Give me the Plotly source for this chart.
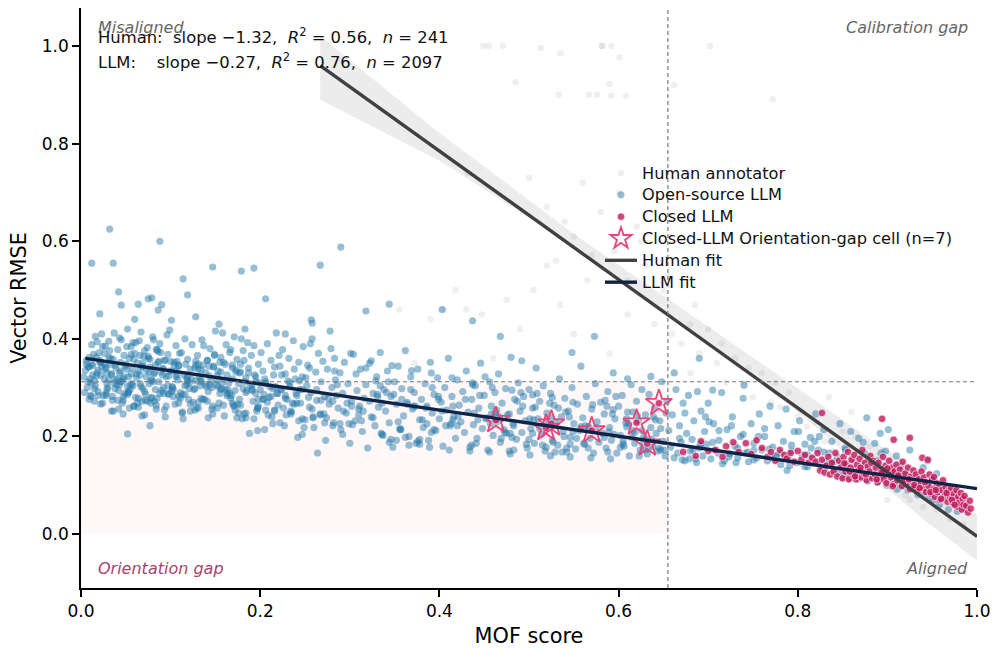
import plotly.graph_objects as go

human_x = [.449,.455,.471,.513,.535,.581,.582,.592,.601,.702,.485,.59,.662,.533,.567,.576,.592,.608,.772,.432,
.355,.372,.39,.405,.418,.43,.447,.46,.475,.49,.505,.52,.535,.55,.565,.58,.595,.61,.625,.64,
.655,.67,.685,.7,.715,.73,.745,.76,.775,.79,.805,.82,.835,.85,.865,.88,.895,.91,.925,.94,
.955,.97,.985,.53,.56,.6,.62,.65,.68,.71,.74,.77,.8,.83,.86,.89,.92,.95,.98,.72,
.66,.69,.75,.78,.81,.84,.87,.9,.93,.96,.5,.52,.54,.57,.61,.63,.68,.64,.59,.55]
human_y = [1.0,1.0,1.0,.996,.985,1.0,1.0,1.0,.977,1.0,.926,.922,.92,.9,.9,.9,.898,.898,.891,.74,
.46,.35,.44,.46,.5,.46,.45,.36,.48,.42,.5,.55,.47,.61,.52,.66,.58,.52,.6,.43,
.53,.39,.47,.42,.39,.36,.34,.33,.31,.29,.25,.23,.28,.21,.2,.18,.17,.09,.07,.055,
.05,.03,.02,.56,.72,.7,.63,.5,.43,.35,.31,.27,.24,.19,.25,.16,.08,.09,.05,.31,
.41,.37,.28,.26,.22,.17,.13,.07,.13,.06,.73,.67,.64,.57,.45,.55,.33,.66,.37,.41]

open_x = [
.005,.007,.009,.010,.012,.013,.015,.016,.018,.019,.020,.022,.023,.024,.026,.027,.028,.030,.031,.033,
.034,.035,.037,.038,.040,.041,.042,.044,.045,.046,.048,.049,.050,.052,.053,.055,.056,.057,.059,.060,
.004,.008,.011,.014,.017,.021,.025,.029,.032,.036,.039,.043,.047,.051,.054,.058,.061,.063,.064,.066,
.067,.069,.070,.071,.073,.074,.076,.077,.079,.080,.081,.083,.084,.086,.087,.088,.090,.091,.093,.094,
.095,.097,.098,.099,.101,.102,.104,.105,.106,.108,.109,.111,.112,.113,.115,.116,.118,.119,.120,.122,
.062,.065,.068,.072,.075,.078,.082,.085,.089,.092,.096,.100,.103,.107,.110,.114,.117,.121,.124,.126,
.127,.129,.130,.132,.133,.135,.136,.138,.139,.141,.142,.144,.145,.147,.148,.150,.151,.153,.154,.156,
.157,.159,.160,.162,.163,.165,.166,.168,.169,.171,.172,.174,.175,.177,.178,.180,.181,.183,.184,.186,
.123,.128,.131,.134,.137,.140,.143,.146,.149,.152,.155,.158,.161,.164,.167,.170,.173,.176,.179,.182,
.187,.189,.190,.192,.193,.195,.197,.198,.200,.201,.203,.205,.206,.208,.210,.212,.213,.215,.217,.218,
.220,.222,.223,.225,.227,.228,.230,.232,.233,.235,.237,.238,.240,.242,.243,.245,.247,.248,.250,.252,
.253,.255,.257,.258,.260,.262,.263,.265,.267,.268,.270,.272,.273,.275,.277,.278,.280,.282,.283,.285,
.188,.196,.204,.214,.224,.234,.244,.254,.264,.274,.284,.287,.289,.290,.292,.294,.296,.298,.300,.302,
.304,.306,.308,.310,.312,.314,.316,.318,.320,.322,.324,.326,.328,.330,.332,.334,.336,.338,.340,.342,
.344,.346,.348,.350,.352,.354,.356,.358,.360,.362,.364,.366,.368,.370,.372,.374,.376,.378,.380,.382,
.384,.386,.388,.390,.392,.394,.396,.398,.400,.402,.404,.406,.408,.410,.412,.414,.416,.418,.420,.422,
.424,.426,.428,.430,.432,.434,.436,.438,.440,.442,.444,.446,.448,.450,.452,.454,.456,.458,.460,.462,
.464,.466,.468,.470,.472,.474,.476,.478,.480,.482,.484,.486,.488,.490,.492,.494,.496,.498,.500,.502,
.504,.506,.508,.510,.512,.514,.516,.518,.520,.522,.524,.526,.528,.530,.532,.534,.536,.538,.540,.542,
.544,.546,.548,.550,.552,.554,.556,.558,.560,.562,.564,.566,.568,.570,.572,.574,.576,.578,.580,.582,
.584,.586,.588,.590,.592,.594,.596,.598,.600,.602,.604,.606,.608,.610,.612,.614,.616,.618,.620,.622,
.624,.626,.628,.630,.632,.634,.636,.638,.640,.642,.644,.646,.648,.650,.652,.654,.656,.658,.660,.662,
.664,.666,.668,.670,.672,.674,.676,.678,.680,.682,.684,.686,.688,.690,.692,.694,.696,.698,.700,.703,
.706,.709,.712,.715,.718,.721,.724,.727,.730,.733,.736,.739,.742,.745,.748,.751,.754,.757,.760,.763,
.766,.769,.772,.775,.778,.781,.784,.787,.790,.793,.796,.799,.802,.805,.808,.811,.814,.817,.820,.823,
.826,.829,.832,.835,.838,.841,.844,.847,.850,.853,.856,.859,.862,.865,.868,.871,.874,.877,.880,.883,
.886,.889,.892,.895,.898,.901,.904,.907,.910,.915,.920,.925,.930,.935,.940,.945,.950,.955,.960,.975,
.012,.032,.036,.042,.021,.045,.064,.086,.088,.079,.114,.119,.147,.179,.193,.206,.267,.257,.258,.290,.318,.344,
.403,.437,.468,.492,.548,.573,.61,.636,.662,.69,.705,.74]
open_y = [
.335,.300,.362,.318,.388,.345,.272,.405,.330,.292,.372,.352,.410,.268,.318,.385,.342,.300,.395,.360,
.328,.282,.412,.346,.306,.378,.256,.334,.398,.312,.366,.288,.348,.420,.322,.296,.384,.340,.262,.370,
.290,.342,.310,.368,.324,.356,.284,.330,.376,.252,.316,.402,.274,.338,.360,.304,.392,.350,.278,.326,
.414,.298,.364,.244,.336,.382,.308,.358,.280,.404,.328,.346,.264,.374,.312,.390,.294,.340,.356,.240,
.322,.368,.286,.418,.334,.302,.352,.266,.386,.316,.344,.290,.372,.250,.326,.400,.306,.358,.276,.338,
.320,.396,.344,.286,.360,.314,.272,.378,.332,.300,.408,.354,.282,.326,.370,.236,.348,.310,.388,.296,
.340,.258,.366,.322,.304,.398,.346,.276,.330,.356,.292,.380,.314,.262,.344,.416,.306,.334,.268,.362,
.298,.352,.242,.388,.326,.310,.372,.284,.340,.404,.294,.358,.266,.330,.348,.236,.376,.312,.290,.392,
.318,.354,.270,.336,.386,.302,.344,.256,.368,.324,.288,.412,.348,.296,.378,.264,.332,.308,.400,.246,
.340,.304,.366,.272,.386,.322,.258,.348,.296,.372,.334,.214,.312,.390,.280,.356,.240,.326,.302,.412,
.264,.344,.296,.378,.222,.328,.276,.360,.310,.250,.396,.338,.288,.198,.352,.268,.322,.384,.234,.304,
.346,.260,.290,.400,.218,.332,.274,.370,.244,.312,.354,.282,.192,.338,.266,.416,.300,.228,.360,.284,
.206,.252,.276,.226,.296,.246,.314,.280,.166,.238,.316,.258,.330,.214,.288,.352,.248,.308,.186,.272,
.368,.232,.294,.256,.338,.210,.278,.306,.176,.350,.240,.288,.222,.322,.260,.372,.204,.296,.252,.334,
.228,.282,.178,.312,.266,.344,.216,.298,.242,.376,.270,.200,.322,.256,.290,.186,.338,.234,.276,.218,
.308,.262,.192,.352,.248,.286,.212,.320,.236,.270,.180,.300,.254,.360,.222,.282,.240,.196,.316,.264,
.230,.292,.208,.334,.250,.178,.276,.224,.304,.196,.258,.350,.216,.284,.238,.172,.312,.262,.202,.290,
.230,.328,.188,.268,.214,.298,.244,.170,.362,.226,.276,.194,.310,.252,.208,.282,.232,.176,.296,.216,
.258,.186,.340,.236,.272,.204,.304,.170,.248,.222,.288,.192,.264,.230,.182,.318,.240,.210,.278,.168,
.252,.198,.300,.226,.174,.266,.212,.344,.238,.184,.282,.220,.196,.256,.166,.308,.230,.188,.270,.206,
.246,.176,.292,.218,.192,.330,.236,.166,.262,.202,.284,.180,.228,.250,.160,.306,.212,.186,.272,.232,
.172,.296,.198,.244,.164,.286,.218,.180,.258,.206,.170,.232,.312,.190,.160,.272,.212,.178,.244,.156,
.296,.166,.222,.188,.268,.150,.206,.284,.170,.194,.232,.154,.292,.176,.252,.160,.210,.184,.268,.154,
.226,.172,.192,.290,.150,.214,.164,.240,.180,.156,.200,.278,.166,.148,.226,.186,.156,.246,.172,.200,
.150,.262,.178,.160,.222,.142,.190,.256,.152,.170,.210,.146,.232,.162,.184,.138,.198,.154,.246,.172,
.140,.214,.150,.166,.190,.132,.158,.226,.144,.176,.124,.210,.152,.134,.196,.128,.166,.238,.142,.118,
.186,.150,.206,.122,.170,.214,.130,.108,.160,.140,.124,.172,.116,.102,.136,.150,.092,.124,.078,.086,
.555,.625,.555,.496,.451,.469,.471,.459,.600,.484,.523,.490,.547,.539,.545,.482,.551,.439,.432,.588,.457,.471,
.46,.437,.405,.355,.372,.405,.318,.323,.330,.36,.295,.305]

dense_x = [
.083,.017,.062,.041,.104,.029,.071,.052,.118,.009,.095,.036,.127,.058,.013,.086,.046,.139,.024,.076,
.111,.033,.149,.067,.006,.098,.054,.131,.019,.081,.044,.161,.074,.027,.107,.061,.143,.015,.089,.049,
.122,.037,.173,.069,.011,.102,.056,.136,.031,.079,.047,.155,.092,.022,.116,.064,.184,.039,.084,.008,
.128,.053,.167,.073,.026,.109,.043,.146,.059,.093,.018,.134,.077,.035,.191,.066,.113,.048,.158,.028,
.087,.125,.055,.178,.012,.101,.068,.141,.038,.082,.198,.051,.119,.023,.152,.075,.097,.042,.169,.063,
.211,.236,.187,.259,.204,.281,.224,.176,.247,.195,.272,.216,.163,.239,.293,.208,.182,.263,.229,.199,
.286,.243,.171,.219,.255,.193,.276,.233,.206,.299,.251,.185,.267,.221,.311,.241,.197,.283,.214,.258,
.326,.349,.303,.371,.337,.392,.315,.358,.381,.329,.407,.346,.297,.368,.421,.335,.385,.307,.354,.399,
.322,.376,.439,.343,.413,.364,.391,.331,.452,.378,.318,.403,.356,.429,.341,.386,.467,.362,.415,.334,
.481,.445,.512,.462,.493,.527,.437,.505,.475,.541,.451,.519,.487,.558,.469,.533,.497,.443,.549,.509,
.478,.566,.523,.457,.539,.491,.575,.515,.464,.553,.501,.585,.529,.473,.545,.561,.507,.595,.483,.537,
.602,.618,.593,.637,.611,.629,.587,.647,.605,.623,.641,.597,.615,.633,.653,.609,.627,.589,.645,.621,
.668,.683,.701,.723,.674,.692,.744,.712,.679,.733,.756,.697,.687,.768,.726,.705,.751,.781,.739,.716,
.793,.763,.808,.776,.824,.788,.815,.837,.801,.846,.829,.858,.819,.867,.841,.878,.853,.889,.863,.899,
.873,.911,.884,.923,.893,.934,.905,.946,.917,.958,.929,.968,.941,.978,.952,.986,
.015,.034,.052,.071,.092,.113,.134,.156,.177,.198,.021,.043,.064,.085,.106,.127,.148,.169,.191,.212,
.011,.029,.047,.068,.088,.109,.131,.152,.174,.195,.216,.238,.259,.281,.302,.228,.249,.271,.292,.313,
.026,.057,.078,.099,.121,.142,.163,.184,.205,.226,.247,.268,.289,.31,.331,.352,.373,.394,.415,.436,
.458,.479,.5,.521,.542,.563,.584,.605,.626,.647,.336,.357,.378,.399,.42,.441,.462,.483,.504,.525,
.546,.567,.588,.609,.63,.651,.671,.691,.711,.731,.751,.771,.791,.811,.831,.851,.871,.891,.911,.931,
.003,.016,.028,.041,.053,.066,.078,.091,.103,.116,.128,.141,.153,.166,.178,.191,.203,.216,.228,.241,
.006,.019,.031,.044,.056,.069,.081,.094,.106,.119,.131,.144,.156,.169,.181,.194,.206,.219,.231,.244,
.009,.022,.034,.047,.059,.072,.084,.097,.109,.122,.134,.147,.159,.172,.184,.197,.209,.222,.234,.247,
.052,.077,.06,.09,.075,.101,.128,.154,.183,.228,.256,.279,.301,.324,.347,.369,.391,.414,.437,.459,
.481,.504,.526,.549,.571,.594,.616,.639,.344,.366,.389,.411,.434,.456,.479,.501,.524,.546,.569,.591]
dense_y = [
.296,.362,.328,.274,.346,.308,.376,.286,.318,.342,.262,.358,.298,.392,.326,.352,.268,.306,.384,.332,
.278,.348,.366,.302,.356,.324,.258,.338,.284,.398,.312,.296,.272,.338,.354,.280,.324,.298,.372,.344,
.266,.310,.336,.350,.284,.300,.368,.276,.362,.316,.246,.352,.288,.326,.304,.260,.320,.340,.378,.312,
.346,.290,.278,.322,.370,.282,.330,.300,.358,.254,.394,.316,.342,.274,.294,.366,.248,.322,.310,.288,
.354,.270,.306,.332,.348,.292,.242,.356,.298,.330,.276,.384,.314,.342,.258,.364,.304,.294,.346,.268,
.302,.268,.330,.240,.286,.272,.326,.248,.296,.312,.228,.342,.284,.318,.252,.270,.356,.296,.244,.310,
.306,.232,.262,.288,.340,.236,.278,.302,.254,.226,.320,.294,.246,.366,.262,.284,.212,.334,.298,.256,
.238,.286,.224,.262,.202,.300,.252,.276,.234,.314,.222,.194,.268,.296,.242,.206,.258,.328,.230,.282,
.272,.190,.248,.312,.226,.266,.208,.286,.236,.184,.340,.252,.214,.276,.290,.226,.240,.198,.262,.304,
.198,.284,.216,.240,.262,.188,.306,.234,.206,.250,.322,.178,.272,.220,.196,.258,.184,.234,.210,.288,
.246,.176,.268,.226,.200,.290,.218,.182,.254,.196,.236,.274,.168,.208,.240,.186,.260,.204,.222,.168,
.178,.208,.246,.194,.226,.172,.262,.216,.190,.160,.234,.282,.198,.174,.248,.220,.184,.210,.176,.242,
.196,.172,.230,.158,.248,.186,.168,.212,.154,.176,.200,.240,.146,.174,.222,.188,.152,.166,.204,.144,
.182,.216,.138,.160,.200,.130,.176,.146,.210,.124,.168,.116,.190,.112,.148,.108,.172,.106,.120,.100,
.188,.092,.146,.090,.166,.080,.128,.072,.100,.060,.094,.050,.084,.046,.070,.054,
.314,.326,.302,.292,.338,.286,.312,.296,.276,.262,.352,.306,.334,.278,.322,.254,.342,.268,.306,.282,
.282,.296,.318,.272,.288,.346,.258,.316,.238,.288,.252,.266,.238,.222,.262,.278,.218,.246,.204,.232,
.348,.308,.268,.334,.298,.238,.288,.248,.318,.258,.204,.274,.226,.244,.282,.192,.262,.214,.234,.182,
.246,.206,.194,.232,.176,.222,.198,.184,.212,.172,.268,.214,.194,.276,.222,.186,.248,.172,.206,.238,
.184,.218,.168,.236,.194,.172,.152,.182,.166,.146,.172,.156,.14,.162,.138,.118,.142,.126,.106,.1,
.322,.304,.284,.318,.292,.308,.278,.326,.296,.286,.314,.272,.302,.288,.264,.296,.276,.254,.284,.268,
.348,.336,.316,.352,.328,.342,.312,.356,.334,.322,.348,.306,.332,.318,.298,.326,.308,.288,.314,.296,
.276,.266,.252,.282,.262,.274,.256,.288,.268,.252,.278,.246,.264,.254,.238,.258,.244,.228,.252,.236,
.205,.222,.44,.47,.482,.438,.445,.43,.42,.41,.39,.38,.37,.355,.345,.335,.33,.32,.31,.3,
.295,.285,.28,.27,.265,.255,.25,.24,.188,.182,.178,.172,.17,.168,.164,.162,.16,.158,.156,.154]

closed_x = [
.672,.686,.692,.700,.708,.716,.720,.728,.734,.742,.748,.754,.760,.766,.770,.775,.780,.785,.788,.792,
.796,.800,.804,.808,.812,.816,.820,.822,.825,.827,.830,.832,.834,.836,.838,.840,.842,.844,.846,.848,
.850,.851,.853,.854,.856,.857,.859,.860,.862,.863,.865,.866,.868,.869,.871,.872,.874,.875,.877,.878,
.880,.881,.883,.884,.886,.887,.889,.890,.892,.893,.895,.896,.898,.899,.901,.902,.904,.905,.907,.908,
.910,.911,.913,.914,.916,.917,.919,.920,.922,.923,.925,.926,.928,.929,.931,.932,.934,.935,.937,.938,
.940,.941,.943,.944,.946,.947,.949,.950,.952,.953,.955,.956,.958,.959,.961,.962,.964,.965,.967,.968,
.970,.971,.973,.974,.976,.977,.978,.979,.980,.982,.983,.984,.985,.986,.988,.990,.992,.993,.852,.858,
.864,.870,.876,.882,.888,.894,.900,.906,.912,.918,.924,.930,.936,.942,.948,.954,.960,.966,.972,.975,
.827,.894,.907,.925,.939,.945,.952,
.463,.519,.525,.570,.620,.632,.645]
closed_y = [
.168,.160,.190,.170,.172,.158,.180,.188,.168,.186,.164,.192,.176,.158,.168,.150,.172,.162,.155,.166,
.148,.170,.152,.162,.146,.156,.148,.166,.130,.152,.126,.140,.158,.122,.146,.128,.166,.118,.150,.136,
.114,.158,.128,.142,.168,.112,.136,.152,.120,.162,.112,.142,.130,.154,.116,.172,.124,.146,.110,.138,
.128,.160,.114,.150,.122,.136,.106,.146,.118,.130,.158,.112,.140,.104,.126,.150,.116,.136,.102,.128,
.142,.110,.120,.132,.098,.148,.112,.124,.104,.136,.092,.118,.108,.130,.096,.122,.088,.112,.102,.128,
.094,.116,.086,.106,.098,.122,.082,.112,.092,.076,.104,.086,.098,.070,.090,.110,.078,.096,.066,.088,
.076,.094,.064,.082,.070,.090,.056,.076,.064,.084,.050,.072,.060,.078,.058,.044,.068,.052,.145,.128,
.118,.136,.122,.146,.112,.126,.134,.098,.120,.108,.112,.100,.094,.106,.086,.090,.072,.084,.070,.060,
.248,.236,.193,.197,.156,.152,.117,
.233,.217,.226,.212,.228,.185,.268]

star_x = [.463,.519,.525,.570,.620,.632,.645]
star_y = [.233,.217,.226,.212,.228,.185,.268]

human_fit_x = [.267,1.0]
human_fit_y = [.96,-.005]
llm_fit_x = [.005,1.0]
llm_fit_y = [.36,.093]

band_x = [.267,.4,.55,.7,.8,.88,.94,1.0,1.0,.94,.88,.8,.7,.55,.4,.267]
band_upper = [1.02,.822,.615,.425,.298,.195,.125,.04]
band_lower = [-.055,.03,.125,.25,.39,.59,.765,.89]
band_y = band_upper + band_lower

x_ticks = [0,.2,.4,.6,.8,1.0]
y_ticks = [0,.2,.4,.6,.8,1.0]
x_gap, y_gap = .655, .312
FONT = "DejaVu Sans"
def lab(s): return f'<span style="font-size:16.2px">{s}</span>'

fig = go.Figure()
fig.add_trace(go.Scatter(x=band_x, y=band_y, mode="lines", fill="toself", line=dict(width=0),
                         fillcolor="rgba(64,64,64,0.10)", showlegend=False, hoverinfo="skip"))
fig.add_trace(go.Scatter(x=human_x, y=human_y, mode="markers", name=lab("Human annotator"),
                         marker=dict(size=6.5, color="rgba(130,130,130,0.13)", line=dict(width=0))))
fig.add_trace(go.Scatter(x=open_x + dense_x, y=open_y + dense_y, mode="markers", name=lab("Open-source LLM"),
                         marker=dict(size=7.2, color="rgba(31,119,168,0.47)", line=dict(width=0))))
fig.add_trace(go.Scatter(x=closed_x, y=closed_y, mode="markers", name=lab("Closed LLM"),
                         marker=dict(size=7.5, color="rgba(194,24,91,0.8)", line=dict(width=0.8, color="rgba(255,255,255,0.8)"))))
fig.add_trace(go.Scatter(x=star_x, y=star_y, mode="markers", name=lab("Closed-LLM Orientation-gap cell (n=7)"),
                         marker=dict(size=20, symbol="star", color="rgba(0,0,0,0)", line=dict(width=1.8, color="#e8457a"))))
fig.add_trace(go.Scatter(x=human_fit_x, y=human_fit_y, mode="lines", name=lab("Human fit"), line=dict(color="#404040", width=3.4)))
fig.add_trace(go.Scatter(x=llm_fit_x, y=llm_fit_y, mode="lines", name=lab("LLM fit"), line=dict(color="#0f2347", width=3.4)))

fig.add_shape(type="rect", x0=0, x1=x_gap, y0=0, y1=y_gap, fillcolor="#fff8f8", line_width=0, layer="below")
fig.add_shape(type="line", xref="x", yref="paper", x0=x_gap, x1=x_gap, y0=0, y1=1, line=dict(color="#777777", width=1.2, dash="4px,3px"))
fig.add_shape(type="line", xref="paper", yref="y", x0=0, x1=1, y0=y_gap, y1=y_gap, line=dict(color="#777777", width=1.2, dash="4px,3px"))

W, H, L, R, T, B = 992, 649, 81, 15, 8, 61
def px(x): return (x - L) / (W - L - R)
def py(y): return 1 - (y - T) / (H - T - B)
def note(text, xp, yp, color, anchor="left", size=16, italic=True):
    fig.add_annotation(text=f"<i>{text}</i>" if italic else text, xref="paper", yref="paper", x=px(xp), y=py(yp),
                       xanchor=anchor, yanchor="middle", showarrow=False, xshift=-2 if anchor == "left" else 2,
                       font=dict(family=FONT, size=size, color=color))
note("Misaligned", 98, 27, "#666666")
note("Calibration gap", 968, 27, "#666666", "right")
note("Orientation gap", 98, 568, "#a8436c")
note("Aligned", 968, 568, "#666666", "right")
note("Human:\u00a0\u00a0slope \u22121.32,\u00a0\u00a0<i>R</i><sup>2</sup> = 0.56,\u00a0\u00a0<i>n</i> = 241", 98, 36, "#111111", size=16.4, italic=False)
note("LLM:\u00a0\u00a0\u00a0\u00a0slope \u22120.27,\u00a0\u00a0<i>R</i><sup>2</sup> = 0.76,\u00a0\u00a0<i>n</i> = 2097", 98, 61, "#111111", size=16.4, italic=False)

axis = dict(showgrid=False, zeroline=False, showline=True, linecolor="black", linewidth=1.6, automargin=False,
            ticks="outside", ticklen=7, tickwidth=1.6, tickcolor="black",
            tickfont=dict(family=FONT, size=17, color="black"), tickformat=".1f")
fig.update_xaxes(axis, range=[0,1], tickvals=x_ticks,
                 title=dict(text="MOF score", font=dict(family=FONT, size=20.8, color="black"), standoff=8))
fig.update_yaxes(axis, range=[-.1107,1.078], tickvals=y_ticks,
                 title=dict(text="Vector RMSE", font=dict(family=FONT, size=20.8, color="black"), standoff=9))
fig.update_layout(width=W, height=H, margin=dict(l=L, r=R, t=T, b=B), plot_bgcolor="white", paper_bgcolor="white",
                  legend=dict(x=px(600), y=py(157), xanchor="left", yanchor="top", bgcolor="rgba(0,0,0,0)",
                              font=dict(family=FONT, size=14.5, color="#111111"), itemwidth=32, tracegroupgap=0))
print(len(open_x), len(open_y), len(dense_x), len(dense_y), len(closed_x), len(closed_y), len(human_x), len(human_y))
fig.write_html("out.html", default_width=f"{W}px", default_height=f"{H}px", config={"displayModeBar": False},
               post_script="document.documentElement.style.margin='0';document.body.style.margin='0';")
